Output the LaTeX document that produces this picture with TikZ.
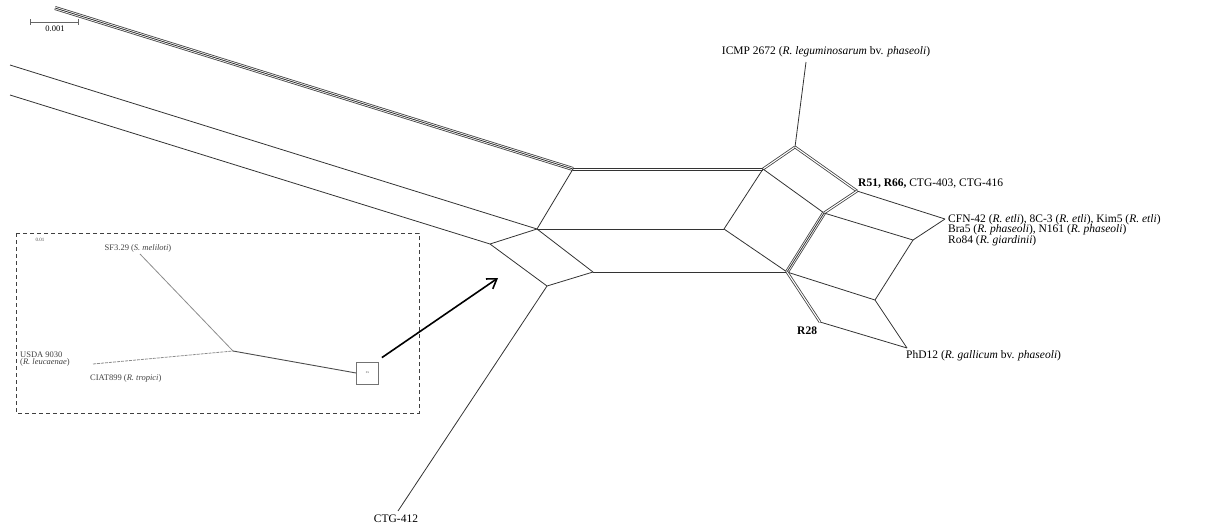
\documentclass[tikz,border=0pt]{standalone}
\usepackage{fontspec}
\setmainfont{Liberation Serif}
\usetikzlibrary{arrows.meta}
\begin{document}
\begin{tikzpicture}[x=1pt,y=-1pt,
  edge/.style={draw=black!80, line width=0.8pt},
  dbl/.style={draw=black!75, line width=0.8pt, double=white, double distance=1.1pt},
  trip/.style={draw=black!75, line width=0.8pt, double=white, double distance=2.4pt},
  lab/.style={font=\fontsize{11.5}{12}\selectfont, inner sep=0pt},
  small/.style={font=\fontsize{8.5}{8.5}\selectfont, inner sep=0pt, text=black!75},
  faint/.style={draw=black!45, line width=0.8pt}]
\useasboundingbox (0,0) rectangle (1220,528);
% coordinates
\coordinate (S1) at (55,8);
\coordinate (S2) at (10,65);
\coordinate (S3) at (10,95);
\coordinate (A) at (573,169);
\coordinate (B) at (537,229);
\coordinate (C) at (490,244);
\coordinate (D) at (547,286);
\coordinate (E) at (593,272);
\coordinate (P) at (763,169);
\coordinate (Q) at (724,229);
\coordinate (I) at (787,272);
\coordinate (F) at (795,147);
\coordinate (G) at (857,191);
\coordinate (H) at (824,213);
\coordinate (J) at (945,219);
\coordinate (K) at (913,240);
\coordinate (L) at (875,300);
\coordinate (M) at (820,322);
\coordinate (N) at (907,348);
\coordinate (Ti) at (806,62);
\coordinate (Tc) at (398,511);
% long branches
\draw[trip] (S1) -- (A);
\draw[edge] (S1) -- (A);
\draw[edge] (S2) -- (B);
\draw[edge] (S3) -- (C);
% central network
\draw[edge] ([yshift=-0.95pt]A) -- ([yshift=-0.95pt]P);
\draw[edge] ([yshift=0.95pt]A) -- ([yshift=0.95pt]P);
\draw[edge] (A) -- (B);
\draw[edge] (B) -- (Q);
\draw[edge] (Q) -- (P);
\draw[edge] (C) -- (B);
\draw[edge] (C) -- (D);
\draw[edge] (B) -- (E);
\draw[edge] (D) -- (E);
\draw[edge] (E) -- (I);
\draw[edge] (Q) -- (I);
\draw[edge] (D) -- (Tc);
% right network
\draw[dbl] (P) -- (F);
\draw[dbl] (F) -- (G);
\draw[edge] (P) -- (H);
\draw[dbl] (H) -- (G);
\draw[trip] (H) -- (I);
\draw[edge] (H) -- (I);
\draw[edge] (F) -- (Ti);
\draw[edge] (G) -- (J);
\draw[edge] (H) -- (K);
\draw[edge] (K) -- (J);
\draw[edge] (K) -- (L);
\draw[edge] (I) -- (L);
\draw[dbl] (I) -- (M);
\draw[edge] (M) -- (N);
\draw[edge] (L) -- (N);
% labels
\node[lab, anchor=south] (icmp) at (826,57) {ICMP 2672 (\textit{R. leguminosarum} bv. \textit{phaseoli})};
\node[lab, anchor=south west] (r51) at (858,188) {\textbf{R51, R66,} CTG-403, CTG-416};
\node[lab, anchor=west, align=left] (cfn) at (948,230) {CFN-42 (\textit{R. etli}), 8C-3 (\textit{R. etli}), Kim5 (\textit{R. etli})\\[-1.5pt]Bra5 (\textit{R. phaseoli}), N161 (\textit{R. phaseoli})\\[-1.5pt]Ro84 (\textit{R. giardinii})};
\node[lab, anchor=west] (r28) at (797,331) {\textbf{R28}};
\node[lab, anchor=west] (phd) at (906,356) {PhD12 (\textit{R. gallicum} bv. \textit{phaseoli})};
\node[lab, anchor=north] (ctg) at (396,515) {CTG-412};
% scale bar
\coordinate (b1) at (30,22);
\coordinate (b2) at (78,22);
\draw[draw=black!60, line width=0.7pt] (b1) -- (b2);
\draw[draw=black!60, line width=0.7pt] (30,19) -- (30,25) (78,19) -- (78,25);
\node[small, text=black, anchor=north] (sc) at (55,26) {0.001};
% inset
\draw[dashed, draw=black!75, line width=0.9pt, dash pattern=on 4pt off 3pt] (16,233) rectangle (419,413);
\node[font=\fontsize{5}{5}\selectfont, text=black!70, inner sep=0pt] (isc) at (40,240) {0.01};
\coordinate (R) at (233,351);
\coordinate (lf1) at (140,254);
\coordinate (lf2) at (93,364);
\node[draw=black!55, line width=0.8pt, minimum size=22pt, inner sep=0pt, font=\fontsize{4}{4}\selectfont, text=black!60] (bx) at (367.5,373) {ss};
\draw[faint] (lf1) -- (R);
\draw[faint, dash pattern=on 3pt off 1pt] (lf2) -- (R);
\draw[draw=black!70, line width=0.9pt] (R) -- (bx.west);
\node[small, anchor=south] (sf) at (138,253) {SF3.29 (\textit{S. meliloti})};
\node[small, anchor=west, align=left] (usda) at (20,359) {USDA 9030\\[-1pt](\textit{R. leucaenae})};
\node[small, anchor=west] (ciat) at (90,378) {CIAT899 (\textit{R. tropici})};
\coordinate (ar) at (498,278);
\draw[-{Straight Barb[length=9pt,width=12pt]}, line width=1.6pt] (bx.north east) ++(3,-4) -- (ar);
\end{tikzpicture}
\end{document}
